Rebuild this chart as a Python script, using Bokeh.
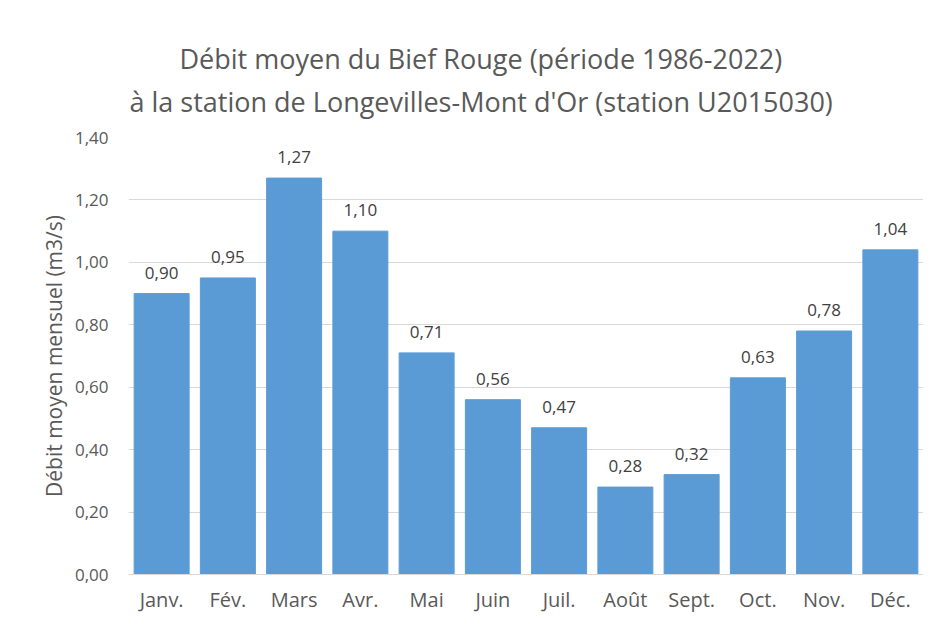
from bokeh.plotting import figure
from bokeh.models import ColumnDataSource, Title, FixedTicker
from bokeh.core.properties import value
from bokeh.embed import file_html
from bokeh.resources import INLINE

months = ["Janv.", "Fév.", "Mars", "Avr.", "Mai", "Juin", "Juil.", "Août", "Sept.", "Oct.", "Nov.", "Déc."]
flows = [0.90, 0.95, 1.27, 1.10, 0.71, 0.56, 0.47, 0.28, 0.32, 0.63, 0.78, 1.04]
y_ticks = [0.0, 0.2, 0.4, 0.6, 0.8, 1.0, 1.2, 1.4]
y_tick_labels = ["0,00", "0,20", "0,40", "0,60", "0,80", "1,00", "1,20", "1,40"]
title_1 = "Débit moyen du Bief Rouge (période 1986-2022)"
title_2 = "à la station de Longevilles-Mont d'Or (station U2015030)"
y_label = "Débit moyen mensuel (m3/s)"

FONT = "Open Sans"
TXT = "#595959"

labels = [f"{v:.2f}".replace(".", ",") for v in flows]
src = ColumnDataSource(dict(m=months, v=flows, lab=labels))

p = figure(x_range=months, y_range=(0, 1.4), width=923, height=615,
           output_backend="svg", toolbar_location=None,
           min_border_left=128, min_border_right=0, min_border_bottom=37,
           min_border_top=137)

p.vbar(x="m", top="v", width=0.83, source=src, fill_color="#5B9BD5",
       line_color="#5B9BD5")
p.text(x="m", y="v", text="lab", source=src, text_align="center",
       text_baseline="bottom", y_offset=-15, text_font=value(FONT),
       text_font_size="17px", text_color="#404040")

# white spacer between the frame and the two title lines
spacer = Title(text=".", text_font=FONT, text_font_size="10px",
               text_color="white", standoff=8)
t2 = Title(text=title_2, align="left", offset=1, text_font=FONT,
           text_font_size="27px", text_font_style="normal", text_color=TXT,
           standoff=0)
t1 = Title(text=title_1, align="left", offset=51, text_font=FONT,
           text_font_size="27px", text_font_style="normal", text_color=TXT,
           standoff=8)
p.add_layout(spacer, "above")
p.add_layout(t2, "above")
p.add_layout(t1, "above")

p.yaxis.ticker = FixedTicker(ticks=y_ticks)
p.yaxis.major_label_overrides = {t: l for t, l in zip(y_ticks, y_tick_labels)}
p.yaxis.axis_line_color = None
p.yaxis.major_tick_line_color = None
p.yaxis.minor_tick_line_color = None
p.yaxis.major_tick_out = 0
p.yaxis.major_label_standoff = 20
p.yaxis.major_label_text_font = FONT
p.yaxis.major_label_text_font_size = "17px"
p.yaxis.major_label_text_color = TXT
p.yaxis.axis_label = y_label
p.yaxis.axis_label_text_font = FONT
p.yaxis.axis_label_text_font_size = "21px"
p.yaxis.axis_label_text_font_style = "normal"
p.yaxis.axis_label_text_color = TXT
p.yaxis.axis_label_standoff = 4

xax = p.below[0]
xax.axis_line_color = "#D9D9D9"
xax.major_tick_line_color = None
xax.minor_tick_line_color = None
xax.major_tick_out = 0
xax.major_label_standoff = 11
xax.major_label_text_font = FONT
xax.major_label_text_font_size = "20px"
xax.major_label_text_color = TXT

p.xgrid.grid_line_color = None
p.ygrid.grid_line_color = "#D9D9D9"
p.outline_line_color = None
p.x_range.range_padding = 0.0

open("out.html", "w").write(file_html(p, INLINE))
